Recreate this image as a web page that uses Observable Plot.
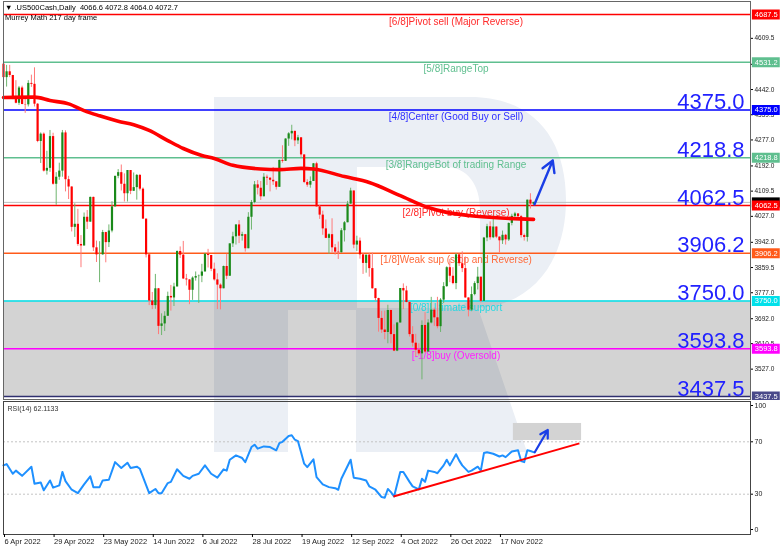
<!DOCTYPE html>
<html><head><meta charset="utf-8">
<script src="https://cdn.jsdelivr.net/npm/d3@7"></script>
<script src="https://cdn.jsdelivr.net/npm/@observablehq/plot@0.6"></script>
<style>
html,body{margin:0;padding:0;background:#fff;}
#wrap{position:relative;width:782px;height:551px;overflow:hidden;font-family:"Liberation Sans",Arial,sans-serif;background:#fff;}
#main{position:absolute;left:0;top:0;}
#rsi{position:absolute;left:0;top:400px;}
.hdr{position:absolute;left:5px;font-size:7.5px;color:#000;white-space:pre;line-height:9px;}
</style></head><body>
<div id="wrap">
  <div id="main"></div>
  <div id="rsi"></div>
  <div class="hdr" style="top:3px">▼ .US500Cash,Daily  4066.6 4072.8 4064.0 4072.7</div>
  <div class="hdr" style="top:13px">Murrey Math 217 day frame</div>
</div>
<script>
// ---------- DATA ----------
const opens = [4525,4481,4500,4488,4413,4397,4447,4393,4392,4462,4459,4394,4272,4296,4175,4184,4288,
4132,4155,4175,4300,4147,4123,3991,4001,3935,3930,4024,4008,4089,3924,3901,3901,3974,3941,3979,4058,4158,4170,
4132,4101,4177,4109,4121,4161,4116,4018,3901,3750,3735,3790,3667,3675,3700,3765,3760,3796,3912,3900,3822,3819,
3785,3825,3830,3831,3845,3903,3899,3854,3819,3802,3790,3863,3831,3937,3960,3999,3962,3967,3921,4024,4072,
4130,4119,4091,4155,4152,4145,4140,4122,4210,4207,4280,4297,4305,4274,4284,4228,4138,4129,4141,4199,4058,4031,3986,
3955,3967,3924,3910,3908,3980,4006,4067,4110,3933,3946,3901,3873,3900,3856,3790,3758,3693,3655,3647,3719,3640,
3586,3678,3791,3783,3745,3640,3612,3589,3577,3670,3583,3678,3720,3695,3666,3753,3797,3859,3831,3807,3901,
3872,3856,3760,3720,3771,3807,3828,3749,3956,3993,3957,3992,3959,3947,3965,3950,4004,4027,4035,4026,3964,3958,4080,4066.6];
const highs = [4527,4521,4521,4488,4471,4452,4453,4411,4471,4489,4513,4396,4300,4300,4240,4308,4299,
4170,4201,4308,4307,4158,4124,4068,4050,3964,4038,4046,4090,4090,3946,3944,3981,3975,3999,4075,4158,4180,4195,
4166,4177,4177,4169,4164,4164,4120,4018,3901,3778,3837,3791,3708,3715,3779,3801,3808,3914,3927,3945,3837,3820,
3829,3845,3835,3870,3906,3919,3899,3874,3839,3806,3864,3903,3937,3975,3999,4013,3975,3968,4039,4079,4141,
4144,4141,4167,4162,4153,4187,4141,4211,4258,4281,4301,4325,4306,4292,4285,4228,4147,4156,4200,4204,4062,4044,4015,
3970,4019,3935,3943,3987,4010,4076,4119,4110,3962,3956,3905,3900,3905,3907,3790,3759,3716,3717,3736,3720,3672,
3680,3791,3806,3798,3748,3666,3641,3610,3685,3712,3689,3762,3727,3762,3758,3810,3862,3886,3859,3905,3903,
3911,3894,3760,3796,3813,3860,3828,3958,4001,4009,4028,3993,3960,3979,3968,4005,4034,4040,4035,4030,3969,4080,4101,4072.8];
const lows = [4450,4450,4481,4409,4395,4390,4392,4364,4385,4449,4385,4268,4200,4172,4162,4171,4129,
4063,4145,4155,4107,4082,3976,3958,3929,3859,3930,3984,4008,3912,3876,3810,3900,3875,3925,3973,4058,4150,4110,
4074,4074,4098,4109,4080,4110,4017,3891,3735,3722,3723,3640,3637,3650,3700,3717,3732,3796,3889,3820,3799,3738,
3752,3815,3742,3810,3845,3858,3846,3815,3722,3721,3790,3820,3831,3925,3933,3938,3946,3910,3921,3982,4068,
4097,4079,4091,4128,4107,4128,4113,4122,4201,4207,4256,4277,4255,4262,4219,4134,4122,4119,4141,4057,4017,3965,3954,
3903,3907,3900,3886,3907,3943,4006,4067,3921,3912,3887,3837,3841,3828,3789,3749,3648,3644,3623,3610,3610,3584,
3584,3678,3722,3744,3632,3599,3568,3570,3492,3578,3583,3675,3667,3659,3647,3742,3795,3810,3803,3787,3863,
3843,3759,3698,3715,3767,3786,3744,3749,3944,3949,3954,3954,3907,3935,3933,3945,3996,4022,4020,3956,3946,3943,4051,4064];
const closes = [4481,4500,4488,4413,4397,4447,4393,4392,4462,4459,4394,4272,4296,4175,4184,4288,4132,
4155,4175,4300,4147,4123,3991,4001,3935,3930,4024,4008,4089,3924,3901,3901,3974,3941,3979,4058,4158,4170,4132,
4101,4177,4109,4121,4161,4116,4018,3901,3750,3735,3790,3667,3675,3700,3765,3760,3796,3912,3900,3822,3819,3785,
3825,3830,3831,3845,3903,3899,3854,3819,3802,3790,3863,3831,3937,3960,3999,3962,3967,3921,4024,4072,4130,
4119,4091,4155,4152,4145,4140,4122,4210,4207,4280,4297,4305,4274,4284,4228,4138,4129,4141,4199,4058,4031,3986,3955,
3967,3924,3910,3908,3980,4006,4067,4110,3933,3946,3901,3873,3900,3856,3790,3758,3693,3655,3647,3719,3640,3586,
3678,3791,3783,3745,3640,3612,3589,3577,3670,3583,3678,3720,3695,3666,3753,3797,3859,3831,3807,3901,3872,
3856,3760,3720,3771,3807,3828,3749,3956,3993,3957,3992,3959,3947,3965,3950,4004,4027,4035,4026,3964,3958,4080,4067,4072.7];

// moving average read at sampled bars
const maIdx = [0,10,15,21,26,31,37,42,47,53,58,64,68,74,83,89,96,100,110,118,128,137,143,150,158,171];
const maVal = [4416,4417,4406,4395,4373,4356,4338,4327,4308,4275,4249,4226,4216,4194,4182,4180,4184,4182,4157,4138,4095,4056,4040,4030,4023,4017];

// RSI(14) read at bars
const rsiIdx = [0,1,3,4,6,9,10,12,13,15,16,18,19,20,22,24,26,28,29,31,32,34,36,38,40,41,43,44,47,49,50,51,53,54,56,58,60,61,63,65,67,69,71,72,73,75,77,78,80,81,82,84,86,88,89,90,92,93,94,95,96,97,98,100,101,103,105,107,108,109,112,113,115,117,118,120,122,123,124,125,126,128,129,131,132,134,135,136,137,139,140,142,143,144,146,147,148,150,151,153,154,155,156,158,160,161,162,164,166,167,168,169,170,171];
const rsiVal = [52,53,45.6,48,44,51,38,39,33,40.5,35,36.7,47,40,33.4,30.8,37.5,43.6,35.4,35.4,40.5,41,54.5,50,54,50,51,49.4,30.8,34,30.8,30.8,38.5,39.4,49,44,41.8,44,45.6,52,45.6,42.6,49,48,56.3,59.6,57.6,54.5,66,67.8,64.8,66.5,66,63.5,69,70,74.4,75,71.6,70.5,62,53.3,50.7,56.6,43,37.5,35.4,34.6,33.4,41.8,56.3,42.6,41.8,40.5,36,33.4,27.8,27.3,34,31.6,28.3,47,47,39.4,36,33.7,41.8,39.4,48,47,46,52,56.3,52,60.5,55.8,52,47,48,51,48,61.4,62,60.9,58.8,59.6,58.3,62.6,63.5,55.3,54.5,63.5,63,62.1];

// Murrey Math levels
const levelValues = [4687.5, 4531.2, 4375.0, 4218.8, 4062.5, 3906.2, 3750.0, 3593.8, 3437.5];
const levelNames = ["[6/8]Pivot sell (Major Reverse)", "[5/8]RangeTop", "[4/8]Center (Good Buy or Sell)",
  "[3/8]RangeBot of trading Range", "[2/8]Pivot buy (Reverse)", "[1/8]Weak sup (stop and Reverse)",
  "[0/8]Ultimate support", "[-1/8]buy (Oversold)", ""];
const bigLevelValues = [4375.0, 4218.8, 4062.5, 3906.2, 3750.0, 3593.8, 3437.5];
const currentPrice = [4072.7];
const priceTicks = [4609.5, 4524.5, 4442.0, 4359.5, 4277.0, 4192.0, 4109.5, 4027.0, 3942.0, 3859.5, 3777.0, 3692.0, 3610.5, 3527.0];
const dateIdx = [0,16,32,48,64,80,96,112,128,144,160];
const dateLabels = ["6 Apr 2022","29 Apr 2022","23 May 2022","14 Jun 2022","6 Jul 2022","28 Jul 2022","19 Aug 2022","12 Sep 2022","4 Oct 2022","26 Oct 2022","17 Nov 2022"];
const rsiLevels = [30, 70];
const rsiTicks = [30, 70];
// analyst annotations
const priceArrow = [{x1: 171.3, y1: 4066, x2: 177.2, y2: 4210}];
const rsiArrow = [{x1: 171.4, y1: 62, x2: 175.6, y2: 79}];
const rsiTrend = [{x1: 125.8, y1: 28.3, x2: 185.8, y2: 68.8}];
const rsiBox = [{x1: 164.5, x2: 186.5, y1: 71, y2: 84}];

// ---------- STYLE ----------
const levelColors = ["#ff0000","#5fbf8f","#0000ff","#5fbf8f","#ff0000","#ff5a1a","#00e1ea","#ff00ff","#2e2e6e"];
const tagColors = ["#ff0000","#5fbf8f","#0000ff","#5fbf8f","#ff0000","#ff5a1a","#00e1ea","#ff00ff","#4a4a8a"];
const labelColors = ["#ff2a2a","#5fbf8f","#3030ff","#5fbf8f","#ff2a2a","#ff6a3a","#22d8e2","#ff22ff","#000"];
const LABEL_X = 146, TAG_X1 = 241.6, TAG_X2 = 250.6, TAG_XC = 246.1;
const FONT = "Liberation Sans, Arial, sans-serif";
// decorative broker watermark (big light "R"), page pixel outline
const WATERMARK = "M214,97 H470 C535,97 566,140 566,200 C566,262 532,305 478,308 L527,452 H356 V310 H288 V452 H214 Z " +
  "M357,167 H445 C468,167 480,185 480,210 V268 C480,295 468,308 445,308 H357 Z";
const watermark = (offsetY) => () => d3.create("svg:path")
  .attr("d", WATERMARK).attr("fill", "#ebeff5").attr("fill-rule", "evenodd")
  .attr("transform", `translate(0,${-offsetY})`).style("mix-blend-mode", "multiply").node();

const bars = closes.map((c, i) => ({i, open: opens[i], high: highs[i], low: lows[i], close: c}));
const ma = maIdx.map((i, k) => ({i, v: maVal[k]}));
const rsi = rsiIdx.map((i, k) => ({i, v: rsiVal[k]}));
const levels = levelValues.map((v, k) => ({v, name: levelNames[k], color: levelColors[k], tag: tagColors[k], lc: labelColors[k]}));
const bigLevels = levels.filter(d => bigLevelValues.includes(d.v));

const xScale = {domain: [0, 241], range: [3, 750], axis: null};

const main = Plot.plot({
  width: 782, height: 400,
  marginLeft: 3, marginRight: 32, marginTop: 1, marginBottom: 1,
  x: xScale,
  y: {domain: [3437.5, 4687.5], range: [396, 14], axis: null},
  color: {type: "identity"},
  style: {fontFamily: FONT, background: "transparent", overflow: "hidden"},
  marks: [
    Plot.rect(levels.slice(6, 7), {x1: 0, x2: 241, y1: levelValues[8], y2: "v", fill: "#d3d3d3"}),
    watermark(0),
    Plot.text(levels.filter(d => d.name), {x: LABEL_X, y: "v", text: "name", fill: "lc", fontSize: 10, dy: 7}),
    Plot.ruleY(levels, {y: "v", stroke: "color", strokeWidth: 1.6}),
    Plot.ruleY(currentPrice, {stroke: "#bdbdbd", strokeWidth: 1}),
    Plot.ruleX(bars, {x: "i", y1: "low", y2: "high", stroke: d => d.close >= d.open ? "#6fb56f" : "#ff7a7a", strokeWidth: 1}),
    Plot.ruleX(bars, {x: "i", y1: "open", y2: "close", stroke: d => d.close >= d.open ? "#1a8a1a" : "#ff0000", strokeWidth: 2.2}),
    Plot.line(ma, {x: "i", y: "v", stroke: "#ff0000", strokeWidth: 3.6, curve: "monotone-x"}),
    Plot.text(bigLevels, {frameAnchor: "right", y: "v", text: d => d.v.toFixed(1), textAnchor: "end", lineAnchor: "bottom", dx: -6, dy: -1, fontSize: 22, fill: "#2121ff"}),
    Plot.arrow(priceArrow, {x1: "x1", y1: "y1", x2: "x2", y2: "y2", stroke: "#1a3ee6", strokeWidth: 2.4, headLength: 8}),
    Plot.frame({stroke: "#666"}),
    Plot.axisY(priceTicks, {anchor: "right", tickSize: 2, tickPadding: 2, fontSize: 6.5, fill: "#222", tickFormat: d => d.toFixed(1)}),
    Plot.ruleY(currentPrice, {x1: TAG_X1, x2: TAG_X2, stroke: "#000", strokeWidth: 10}),
    Plot.ruleY(levels, {y: "v", x1: TAG_X1, x2: TAG_X2, stroke: "tag", strokeWidth: 10}),
    Plot.text(levels, {x: TAG_XC, y: "v", text: d => d.v.toFixed(1), fill: "#fff", fontSize: 7.5})
  ]
});
document.getElementById("main").appendChild(main);

const rsiPlot = Plot.plot({
  width: 782, height: 151,
  marginLeft: 3, marginRight: 32, marginTop: 1, marginBottom: 17,
  x: xScale,
  y: {domain: [0, 100], range: [133, 2], axis: null},
  color: {type: "identity"},
  style: {fontFamily: FONT, background: "transparent", overflow: "hidden"},
  marks: [
    watermark(400),
    Plot.rect(rsiBox, {x1: "x1", x2: "x2", y1: "y1", y2: "y2", fill: "#d3d3d3"}),
    Plot.ruleY(rsiLevels, {stroke: "#c4c4c4", strokeDasharray: "2,2"}),
    Plot.line(rsi, {x: "i", y: "v", stroke: "#1e90ff", strokeWidth: 2}),
    Plot.link(rsiTrend, {x1: "x1", y1: "y1", x2: "x2", y2: "y2", stroke: "#ff0000", strokeWidth: 2}),
    Plot.arrow(rsiArrow, {x1: "x1", y1: "y1", x2: "x2", y2: "y2", stroke: "#1a3ee6", strokeWidth: 2.2, headLength: 7}),
    Plot.text(["RSI(14) 62.1133"], {frameAnchor: "top-left", dx: 4, dy: 5, fontSize: 7, fill: "#333", lineAnchor: "top"}),
    Plot.frame({stroke: "#444"}),
    Plot.axisY(rsiTicks, {anchor: "right", tickSize: 2, tickPadding: 2, fontSize: 7, fill: "#222"}),
    Plot.axisY([100], {anchor: "right", tickSize: 2, tickPadding: 2, fontSize: 7, fill: "#222", dy: 3}),
    Plot.axisY([0], {anchor: "right", tickSize: 2, tickPadding: 2, fontSize: 7, fill: "#222", dy: -4}),
    Plot.axisX(dateIdx, {anchor: "bottom", tickSize: 3, tickPadding: 1, textAnchor: "start", dx: 1, fontSize: 7.5, fill: "#222", tickFormat: d => dateLabels[dateIdx.indexOf(d)]})
  ]
});
document.getElementById("rsi").appendChild(rsiPlot);
</script>
</body></html>
